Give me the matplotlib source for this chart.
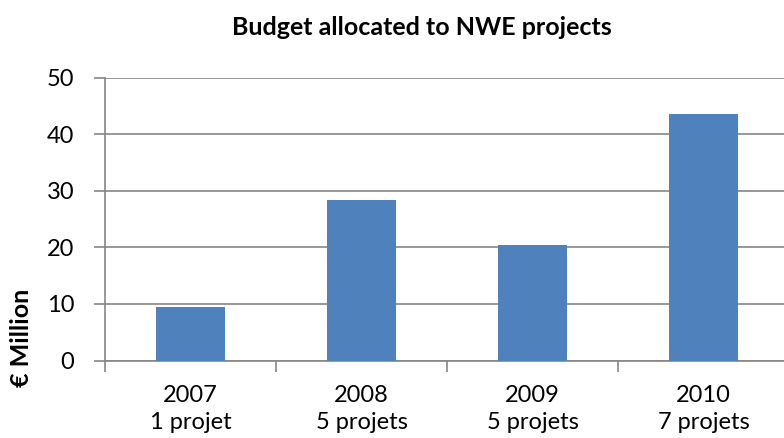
import numpy as np
import matplotlib.pyplot as plt

# data
years = ['2007', '2008', '2009', '2010']
projects = ['1 projet', '5 projets', '5 projets', '7 projets']
budget = [9.4, 28.3, 20.5, 43.5]  # € Million

bar_color = '#4F81BD'
grid_color = '#868686'
plt.rcParams['font.family'] = ['Lato', 'DejaVu Sans']

fig = plt.figure(figsize=(7.84, 4.38), dpi=100)
ax = fig.add_axes([105 / 784, 77.5 / 438, 684 / 784, 282.8 / 438])

x = np.arange(len(years))
ax.bar(x, budget, width=0.4, color=bar_color, zorder=3)

ax.set_xlim(-0.5, len(years) - 0.5)
ax.set_ylim(0, 50)
ax.set_yticks(np.arange(0, 51, 10))
ax.yaxis.grid(True, color=grid_color, linewidth=1.2, zorder=0)

# category boundaries as major ticks, labels on minor ticks
ax.set_xticks(np.arange(-0.5, len(years) - 0.5, 1.0))
ax.set_xticklabels([])
ax.set_xticks(x, minor=True)
ax.set_xticklabels([f'{y}\n{p}' for y, p in zip(years, projects)], minor=True,
                   fontsize=17, linespacing=1.3)
ax.tick_params(axis='x', which='major', length=8, width=1.2, color=grid_color)
ax.tick_params(axis='x', which='minor', length=0, pad=18)
ax.tick_params(axis='y', length=8, width=1.2, color=grid_color, labelsize=17, pad=14)

for s in ['top', 'right']:
    ax.spines[s].set_visible(False)
for s in ['left', 'bottom']:
    ax.spines[s].set_color(grid_color)
    ax.spines[s].set_linewidth(1.2)

fig.text(422 / 784, 1 - 35 / 438, 'Budget allocated to NWE projects',
         ha='center', va='baseline', fontsize=18, fontweight='bold')
fig.text(22 / 784, 1 - 338 / 438, '€ Million', rotation=90,
         ha='center', va='center', fontsize=18, fontweight='bold')

plt.savefig('out.png', dpi=100)
